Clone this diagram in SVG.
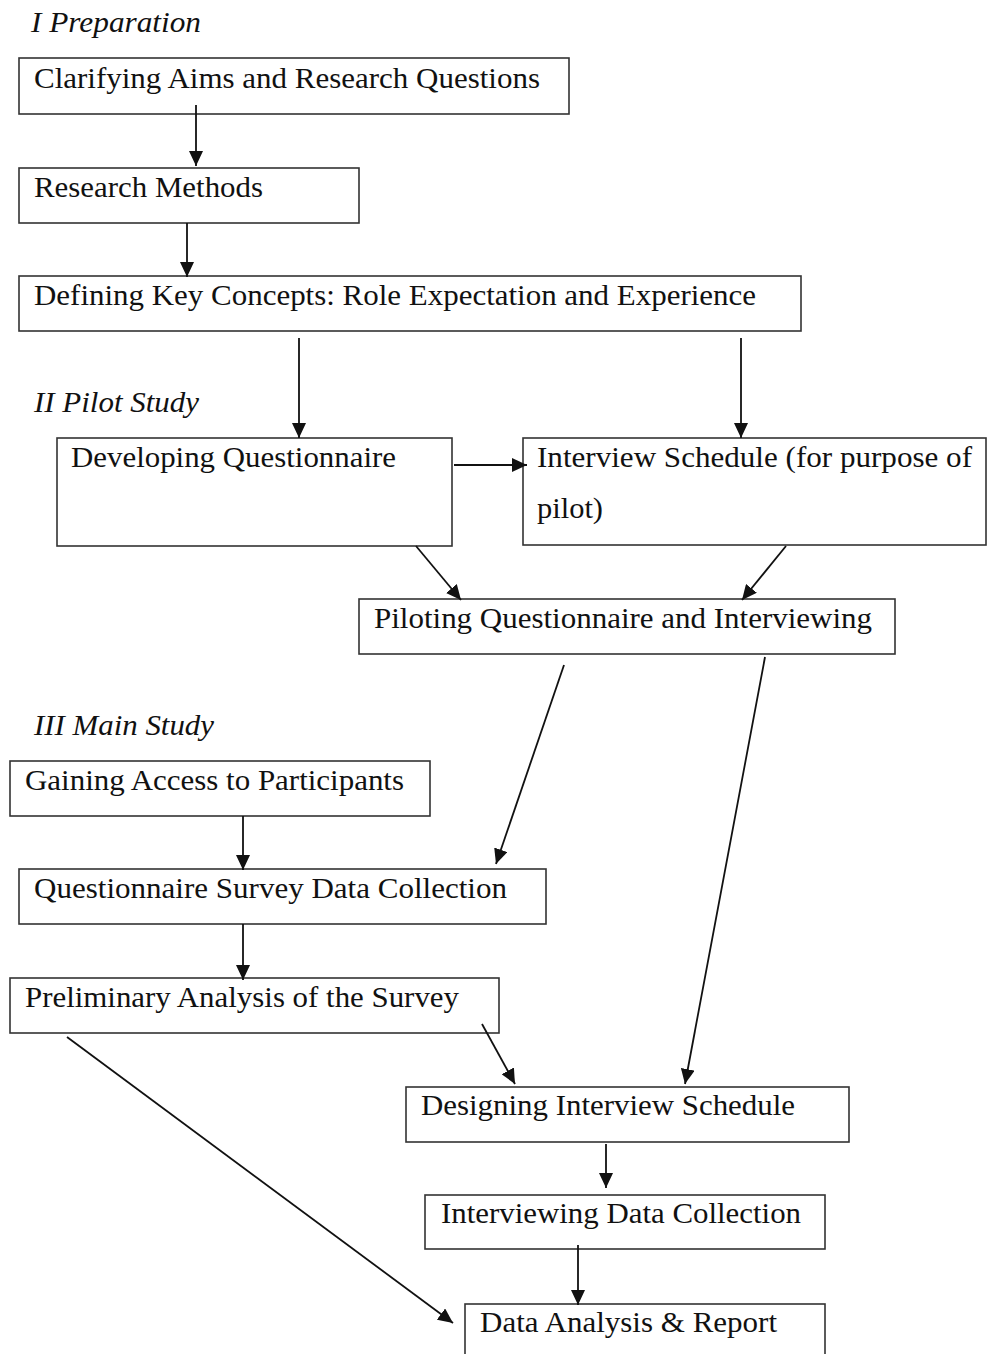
<svg xmlns="http://www.w3.org/2000/svg" width="988" height="1354" viewBox="0 0 988 1354">
<style>
.box{fill:#fff;stroke:#333;stroke-width:1.6}
.t{font-family:"Liberation Serif","Times New Roman",serif;font-size:29px;fill:#111}
.h{font-family:"Liberation Serif","Times New Roman",serif;font-size:29px;font-style:italic;fill:#111}
.c{stroke:#111;stroke-width:1.8;fill:none;marker-end:url(#ah)}
</style>
<defs>
<marker id="ah" markerUnits="userSpaceOnUse" markerWidth="16" markerHeight="14" refX="15" refY="7" orient="auto">
<path d="M0,0 L15,7 L0,14 Z" fill="#111"/>
</marker>
</defs>
<rect width="988" height="1354" fill="#fff"/>
<text class="h" x="31" y="32" textLength="170" lengthAdjust="spacingAndGlyphs">I Preparation</text>
<text class="h" x="34" y="412" textLength="165" lengthAdjust="spacingAndGlyphs">II Pilot Study</text>
<text class="h" x="34" y="735" textLength="180" lengthAdjust="spacingAndGlyphs">III Main Study</text>
<g id="n1"><rect class="box" x="19" y="58" width="550" height="56"/><text class="t" x="34" y="88" textLength="506" lengthAdjust="spacingAndGlyphs">Clarifying Aims and Research Questions</text></g>
<g id="n2"><rect class="box" x="19" y="168" width="340" height="55"/><text class="t" x="34" y="197" textLength="229" lengthAdjust="spacingAndGlyphs">Research Methods</text></g>
<g id="n3"><rect class="box" x="19" y="276" width="782" height="55"/><text class="t" x="34" y="305" textLength="722" lengthAdjust="spacingAndGlyphs">Defining Key Concepts: Role Expectation and Experience</text></g>
<g id="n4"><rect class="box" x="57" y="438" width="395" height="108"/><text class="t" x="71" y="467" textLength="325" lengthAdjust="spacingAndGlyphs">Developing Questionnaire</text></g>
<g id="n5"><rect class="box" x="523" y="438" width="463" height="107"/><text class="t" x="537" y="467" textLength="435" lengthAdjust="spacingAndGlyphs">Interview Schedule (for purpose of</text><text class="t" x="537" y="518" textLength="66" lengthAdjust="spacingAndGlyphs">pilot)</text></g>
<g id="n6"><rect class="box" x="359" y="599" width="536" height="55"/><text class="t" x="374" y="628" textLength="498" lengthAdjust="spacingAndGlyphs">Piloting Questionnaire and Interviewing</text></g>
<g id="n7"><rect class="box" x="10" y="761" width="420" height="55"/><text class="t" x="25" y="790" textLength="379" lengthAdjust="spacingAndGlyphs">Gaining Access to Participants</text></g>
<g id="n8"><rect class="box" x="19" y="869" width="527" height="55"/><text class="t" x="34" y="898" textLength="473" lengthAdjust="spacingAndGlyphs">Questionnaire Survey Data Collection</text></g>
<g id="n9"><rect class="box" x="10" y="978" width="489" height="55"/><text class="t" x="25" y="1007" textLength="434" lengthAdjust="spacingAndGlyphs">Preliminary Analysis of the Survey</text></g>
<g id="n10"><rect class="box" x="406" y="1087" width="443" height="55"/><text class="t" x="421" y="1115" textLength="374" lengthAdjust="spacingAndGlyphs">Designing Interview Schedule</text></g>
<g id="n11"><rect class="box" x="425" y="1195" width="400" height="54"/><text class="t" x="441" y="1223" textLength="360" lengthAdjust="spacingAndGlyphs">Interviewing Data Collection</text></g>
<g id="n12"><rect class="box" x="465" y="1304" width="360" height="60"/><text class="t" x="480" y="1332" textLength="297" lengthAdjust="spacingAndGlyphs">Data Analysis &amp; Report</text></g>
<g id="connectors">
<line class="c" x1="196" y1="105" x2="196" y2="166"/>
<line class="c" x1="187" y1="223" x2="187" y2="277"/>
<line class="c" x1="299" y1="338" x2="299" y2="438"/>
<line class="c" x1="741" y1="338" x2="741" y2="438"/>
<line class="c" x1="454" y1="465" x2="527" y2="465"/>
<line class="c" x1="416" y1="546" x2="461" y2="600"/>
<line class="c" x1="786" y1="546" x2="742" y2="600"/>
<line class="c" x1="564" y1="665" x2="496" y2="864"/>
<line class="c" x1="765" y1="657" x2="685" y2="1084"/>
<line class="c" x1="243" y1="816" x2="243" y2="870"/>
<line class="c" x1="243" y1="924" x2="243" y2="980"/>
<line class="c" x1="482" y1="1024" x2="515" y2="1084"/>
<line class="c" x1="67" y1="1037" x2="453" y2="1323"/>
<line class="c" x1="606" y1="1144" x2="606" y2="1188"/>
<line class="c" x1="578" y1="1245" x2="578" y2="1305"/>
</g>
</svg>
